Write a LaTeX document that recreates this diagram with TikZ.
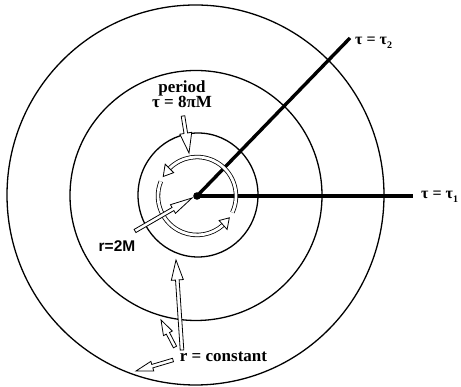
\documentclass[tikz,border=0pt]{standalone}
\usepackage{fontspec}
\setmainfont{Liberation Serif}
\newfontfamily\labsans{Liberation Sans}
\usetikzlibrary{calc}
\tikzset{
  orbit/.style={line width=1.3pt},
  ray/.style={line width=3.4pt},
  lab/.style={font=\fontsize{17}{19}\selectfont\bfseries, inner sep=0pt},
  hollow/.style={fill=white, draw=black, line width=0.8pt, line join=miter},
  ringline/.style={line width=0.8pt, double=white, double distance=2.8pt},
}
\newcommand{\subsc}[1]{\raisebox{-4pt}{\fontsize{10}{10}\selectfont #1}}
\newcommand{\hollowarrow}[4]{%
  \coordinate (hA) at (#1);
  \coordinate (hB) at (#2);
  \coordinate (hH) at ($(hB)!#3!(hA)$);
  \filldraw[hollow] ($(hA)!1.8pt!90:(hB)$) -- ($(hH)!1.8pt!90:(hB)$)
    -- ($(hH)!#4!90:(hB)$) -- (hB) -- ($(hH)!#4!-90:(hB)$)
    -- ($(hH)!1.8pt!-90:(hB)$) -- ($(hA)!1.8pt!-90:(hB)$) -- cycle;
}
\newcommand{\ringhead}[2]{%
  \filldraw[hollow] ($(R)+(#1:39)$) -- ($(R)+(#2:45)$) -- ($(R)+(#2:33)$) -- cycle;
}
\begin{document}
\begin{tikzpicture}[x=1pt,y=1pt]
\useasboundingbox (0,0) rectangle (461,387);
% centres
\coordinate (O) at (197,191);
\coordinate (R) at (197,191);
% circles r = constant
\draw[orbit] (198,192) circle [x radius=60, y radius=62];
\draw[orbit] (196,191.5) circle [x radius=126, y radius=125];
\draw[orbit] (195.5,192) circle [x radius=188.5, y radius=190];
% rays
\coordinate (t1) at (413,191);
\coordinate (t2) at (350,349);
\draw[ray] (O) -- (t1);
\draw[ray] (O) -- (t2);
\node[lab, anchor=west, font=\fontsize{16}{18}\selectfont\bfseries] (l1) at (421,190) {τ = τ\subsc{1}};
\node[lab, anchor=west, font=\fontsize{16}{18}\selectfont\bfseries] (l2) at (355,344) {τ = τ\subsc{2}};
% ring (period orbit)
\draw[ringline] ($(R)+(-25:39)$) arc[start angle=-25, end angle=135, radius=39];
\draw[ringline] ($(R)+(158:39)$) arc[start angle=158, end angle=312, radius=39];
\ringhead{150}{135}
\ringhead{-34}{-48}
\fill (O) circle (3.8);
% labels
\node[lab] (per) at (182,299) {period};
\node[lab] (tau) at (182,285) {τ = 8πM};
\node[lab, font=\fontsize{15.5}{17}\selectfont\bfseries\labsans] (r2m) at (117,141) {r=2M};
\node[lab] (rc) at (223.5,30) {r = constant};
% hollow arrows
\coordinate (a1s) at (183,271); \coordinate (a1t) at (189,234);
\hollowarrow{a1s}{a1t}{20pt}{6pt}
\coordinate (a2s) at (135,156); \coordinate (a2t) at (192,189);
\hollowarrow{a2s}{a2t}{22pt}{5pt}
\coordinate (a3s) at (182,37); \coordinate (a3t) at (176,127);
\hollowarrow{a3s}{a3t}{20pt}{6pt}
\coordinate (a4s) at (175,40); \coordinate (a4t) at (161,67);
\hollowarrow{a4s}{a4t}{15pt}{5pt}
\coordinate (a5s) at (173,27); \coordinate (a5t) at (136,16);
\hollowarrow{a5s}{a5t}{17pt}{5pt}
\end{tikzpicture}
\end{document}
